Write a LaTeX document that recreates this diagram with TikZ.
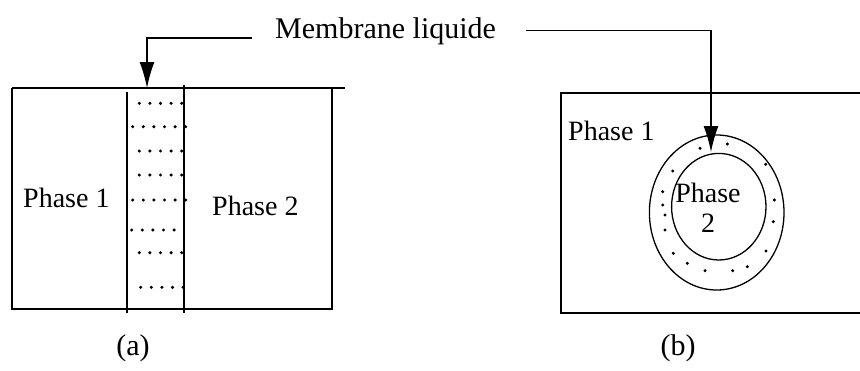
\documentclass[tikz,border=0pt]{standalone}
\usepackage{fontspec}
\setmainfont{Liberation Serif}
\usetikzlibrary{arrows.meta}
\tikzset{
  wall/.style={line width=1.4pt},
  ring/.style={line width=1.3pt},
  callout/.style={line width=1.4pt,-{Latex[length=26pt,width=15pt]}},
  lbl/.style={font=\fontsize{28}{30}\selectfont,inner sep=0pt},
  sublabel/.style={font=\fontsize{30}{30}\selectfont,inner sep=0pt},
}
\begin{document}
\begin{tikzpicture}[x=1pt,y=-1pt]
  \useasboundingbox (0,0) rectangle (860,370);
  % (a) flat membrane
  \draw[wall] (12,88) -- (345,88);
  \draw[wall] (12,88) -- (12,309) -- (332,309) -- (332,88);
  \draw[wall] (127,92) -- (127,313);
  \draw[line width=2pt] (184,85) -- (184,313);
  \foreach \xs/\n/\y in {139.3/5/103.3, 132.7/6/126.7, 139.3/5/151, 139.3/5/175,
                         132.7/6/200, 131.7/5/230, 139.3/5/252.7, 140.7/5/287.3} {
    \foreach \i in {1,...,\n} \fill ({\xs+(\i-1)*10.6},\y) circle (1.7pt);
  }
  \node[lbl,anchor=base west] (phaseAa) at (23,207) {Phase 1};
  \node[lbl,anchor=base west] (phaseAb) at (212,215) {Phase 2};
  \node[sublabel] (capa) at (133,348) {(a)};
  % (b) emulsion drop
  \draw[wall] (860,93) -- (561,93) -- (561,313) -- (860,313);
  \draw[ring] (716.7,212.5) ellipse [x radius=67.3pt, y radius=77.5pt];
  \draw[ring] (718.8,206.7) ellipse [x radius=47.2pt, y radius=53.3pt];
  \foreach \x/\y in {700/148.3, 727.3/144, 765.7/164.3, 672.7/171, 662.7/191.7,
                     662.7/205, 665/215, 665/230, 774.3/200, 773.3/221.7,
                     766/251, 673.3/253.3, 687.3/263.3, 705/270.7, 732.7/270.7,
                     747.3/266.7}
    \fill (\x,\y) circle (1.7pt);
  \node[lbl,anchor=base west] (phaseBa) at (568,140) {Phase 1};
  \node[lbl,align=center] (phaseBb) at (708,208) {Phase\\2};
  \node[sublabel] (capb) at (678,348) {(b)};
  % common label
  \node[font=\fontsize{30}{32}\selectfont,inner sep=0pt,anchor=base west] (memb) at (275,38) {Membrane liquide};
  \coordinate (filmA) at (147,88);
  \coordinate (filmB) at (711,152);
  \draw[callout] ([xshift=-23pt]memb.base west) -| (filmA);
  \draw[callout] ([xshift=30pt]memb.east) -| (filmB);
\end{tikzpicture}
\end{document}
